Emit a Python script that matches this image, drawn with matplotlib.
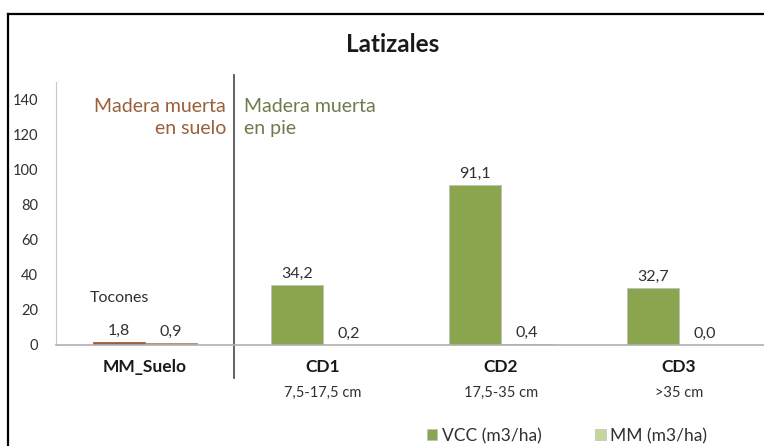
import numpy as np
import matplotlib.pyplot as plt
from matplotlib.lines import Line2D
from matplotlib.patches import Patch

plt.rcParams['font.family'] = ['Lato', 'DejaVu Sans']

categories = ["MM_Suelo", "CD1", "CD2", "CD3"]
subtitles = ["", "7,5-17,5 cm", "17,5-35 cm", ">35 cm"]
vcc = [1.8, 34.2, 91.1, 32.7]
mm = [0.9, 0.2, 0.4, 0.0]
labels_vcc = ["1,8", "34,2", "91,1", "32,7"]
labels_mm = ["0,9", "0,2", "0,4", "0,0"]
yticks = [0, 20, 40, 60, 80, 100, 120, 140]

green = "#8aa54d"
light_green = "#c5d69b"
brown = "#9a5f3b"
light_brown = "#b08a6e"
txt = "#303030"

fig = plt.figure(figsize=(7.64, 4.46), dpi=100)
ax = fig.add_axes([56/764, 1-345/446, 712/764, (345-82)/446])

x = np.arange(len(categories))
w = 0.287
off = 0.146
vcc_colors = [brown] + [green]*3
mm_colors = [light_brown] + [light_green]*3
vcc_edges = [brown] + ["#bfbfbf"]*3
mm_edges = [light_brown] + ["#bfbfbf"]*3
ax.bar(x - off, vcc, w, color=vcc_colors, edgecolor=vcc_edges, linewidth=0.6)
ax.bar(x + off, mm, w, color=mm_colors, edgecolor=mm_edges, linewidth=0.6)

for i in range(len(x)):
    ax.annotate(labels_vcc[i], (x[i] - off, vcc[i]), xytext=(0, 3), textcoords="offset points",
                ha="center", va="bottom", fontsize=11.5, color=txt)
    ax.annotate(labels_mm[i], (x[i] + off, mm[i]), xytext=(0, 3), textcoords="offset points",
                ha="center", va="bottom", fontsize=11.5, color=txt)

ax.text(x[0] - off, 27, "Tocones", ha="center", va="center", fontsize=11.5, color=txt)

ax.set_xlim(-0.5, 3.5)
ax.set_ylim(0, 150)
ax.set_yticks(yticks)
ax.set_xticks([])
ax.tick_params(axis="y", length=0, pad=13, labelsize=10.5, labelcolor=txt)
for s in ["top", "right"]:
    ax.spines[s].set_visible(False)
ax.spines["left"].set_color("#c8c8c8")
ax.spines["bottom"].set_color("#b0b0b0")
ax.spines["bottom"].set_linewidth(1.2)

# category labels below axis
for i, c in enumerate(categories):
    ax.annotate(c, (x[i], 0), xytext=(0, -22), textcoords="offset pixels",
                ha="center", va="center", fontsize=12.5, fontweight="bold", color="#1a1a1a",
                annotation_clip=False)
    if subtitles[i]:
        ax.annotate(subtitles[i], (x[i], 0), xytext=(0, -48), textcoords="offset pixels",
                    ha="center", va="center", fontsize=10.5, color=txt, annotation_clip=False)

# separator between groups
ax.plot([0.5, 0.5], [154, -19], color="#555555", lw=1.3, clip_on=False)

ax.text(0.455, 141, "Madera muerta\nen suelo", ha="right", va="top", fontsize=14,
        color=brown, linespacing=1.4)
ax.text(0.555, 141, "Madera muerta\nen pie", ha="left", va="top", fontsize=14,
        color="#6d7c4c", linespacing=1.4)

fig.text(393/764, 1-44/446, "Latizales", ha="center", va="center", fontsize=17.5,
         fontweight="bold", color="#1a1a1a")

# outer frame (right and bottom edges fall outside the image)
fx, fy = 8/764, 1-14/446
fig.add_artist(Line2D([fx, fx], [-0.05, fy], color="black", lw=1.6))
fig.add_artist(Line2D([fx, 1.05], [fy, fy], color="black", lw=1.6))

handles = [Patch(facecolor=green, edgecolor="#bfbfbf", lw=0.5),
           Patch(facecolor=light_green, edgecolor="#bfbfbf", lw=0.5)]
fig.legend(handles, ["VCC (m3/ha)", "MM (m3/ha)"], ncol=2, loc="center left",
           bbox_to_anchor=(427/764, 1-436/446), frameon=False, fontsize=12.5,
           handlelength=0.6, handleheight=0.6, handletextpad=0.25, columnspacing=3.1,
           labelcolor=txt, borderpad=0, borderaxespad=0)

fig.savefig("out.png", dpi=100)
